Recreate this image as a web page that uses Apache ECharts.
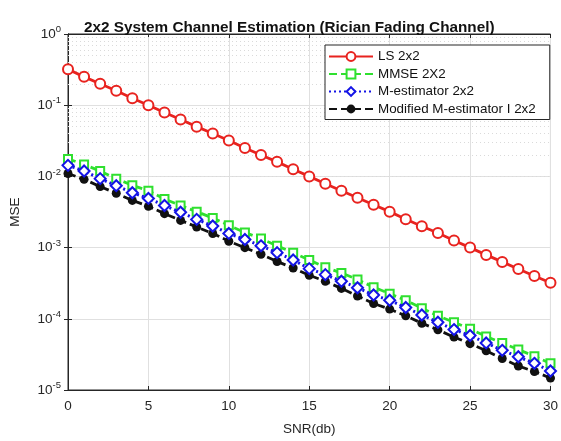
<!DOCTYPE html>
<html>
<head>
<meta charset="utf-8">
<script src="https://cdn.jsdelivr.net/npm/echarts@6/dist/echarts.min.js"></script>
<style>
  html, body { margin: 0; padding: 0; background: #fff; }
  #chart { width: 561px; height: 441px; }
</style>
</head>
<body>
<div id="chart"></div>
<script>
// SNR in dB
const snr = [0, 1, 2, 3, 4, 5, 6, 7, 8, 9, 10, 11, 12, 13, 14, 15, 16, 17, 18, 19, 20,
  21, 22, 23, 24, 25, 26, 27, 28, 29, 30];

const lsMse = [0.32, 0.25, 0.20, 0.16, 0.125, 0.10, 0.079, 0.063, 0.050, 0.040, 0.032,
  0.025, 0.020, 0.016, 0.0126, 0.010, 0.0079, 0.0063, 0.0050, 0.0040, 0.0032,
  0.0025, 0.0020, 0.0016, 0.00126, 0.0010, 0.00079, 0.00063, 0.00050, 0.00040, 0.00032];

const mmseMse = [0.0176, 0.0147, 0.0119, 0.0093, 0.0075, 0.0063, 0.0048, 0.0039, 0.0032,
  0.0026, 0.00206, 0.00163, 0.00134, 0.00106, 0.00085, 0.00067, 0.00053, 0.00044,
  0.000356, 0.000278, 0.000225, 0.000182, 0.000141, 0.000110, 0.0000895, 0.0000722,
  0.0000565, 0.0000458, 0.0000370, 0.0000298, 0.0000237];

const mestMse = [0.0143, 0.0119, 0.0093, 0.0074, 0.0059, 0.0049, 0.0039, 0.00314, 0.00249,
  0.00201, 0.00158, 0.00130, 0.00106, 0.00085, 0.00067, 0.000506, 0.000417, 0.000337,
  0.000273, 0.000216, 0.000182, 0.000144, 0.000113, 0.0000895, 0.0000706, 0.0000583,
  0.0000458, 0.0000361, 0.0000293, 0.0000237, 0.0000185];

const modMse = [0.0110, 0.0091, 0.0072, 0.0058, 0.0046, 0.0038, 0.0030, 0.00241, 0.00195,
  0.00158, 0.00123, 0.000997, 0.000807, 0.000638, 0.000517, 0.000408, 0.000337,
  0.000267, 0.000209, 0.000164, 0.000137, 0.000110, 0.0000867, 0.0000700, 0.0000554,
  0.0000448, 0.0000355, 0.0000277, 0.0000217, 0.0000182, 0.0000147];

const legendNames = ["LS 2x2", "MMSE 2X2", "M-estimator 2x2", "Modified M-estimator I 2x2"];

// dotted minor grid at 2..9 x 10^k
let minorLines = [];
for (let k = -5; k < 0; k++) {
  for (let m = 2; m <= 9; m++) {
    minorLines.push({ yAxis: m * Math.pow(10, k) });
  }
}

function pairs(ys) {
  return snr.map((x, i) => [x, ys[i]]);
}

const font = "'Liberation Sans', Arial, sans-serif";
const axisColor = "#262626";

let myChart = echarts.init(document.getElementById("chart"));
let option = {
  animation: false,
  textStyle: { fontFamily: font },
  title: {
    text: "2x2 System Channel Estimation (Rician Fading Channel)",
    left: 79,
    top: 15,
    textStyle: { fontSize: 15.3, fontWeight: "bold", color: "#111", fontFamily: font }
  },
  grid: {
    left: 65, right: 6, top: 34, bottom: 44,
    show: true, borderColor: axisColor, borderWidth: 1, backgroundColor: "#fff"
  },
  legend: {
    data: legendNames,
    orient: "vertical",
    left: 325,
    top: 45,
    z: 10,
    itemWidth: 44,
    itemHeight: 11,
    itemGap: 4.5,
    padding: [5, 14, 4, 3],
    backgroundColor: "#fff",
    borderColor: axisColor,
    borderWidth: 1,
    textStyle: { fontSize: 13.4, color: "#111", fontFamily: font }
  },
  xAxis: [
    {
      type: "value",
      min: 0, max: 30, interval: 5,
      name: "SNR(db)",
      nameLocation: "middle",
      nameGap: 32,
      nameTextStyle: { fontSize: 13.5, color: axisColor },
      axisLine: { lineStyle: { color: axisColor } },
      axisTick: { inside: true, length: 4, lineStyle: { color: axisColor } },
      axisLabel: { fontSize: 13.5, color: axisColor, margin: 9 },
      splitLine: { show: true, lineStyle: { color: "#e0e0e0", width: 1 } }
    },
    {
      type: "value", position: "top",
      min: 0, max: 30, interval: 5,
      axisLine: { lineStyle: { color: axisColor } },
      axisTick: { inside: true, length: 4, lineStyle: { color: axisColor } },
      axisLabel: { show: false },
      splitLine: { show: false }
    }
  ],
  yAxis: [
    {
      type: "log",
      logBase: 10,
      min: 1e-5, max: 1,
      name: "MSE",
      nameLocation: "middle",
      nameGap: 46,
      nameTextStyle: { fontSize: 13.5, color: axisColor },
      axisLine: { lineStyle: { color: axisColor } },
      axisTick: { inside: true, length: 4, lineStyle: { color: axisColor } },
      axisLabel: {
        color: axisColor,
        margin: 7,
        formatter: function (v) {
          let e = Math.round(Math.log10(v));
          return "{b|10}{s|" + e + "}";
        },
        rich: {
          b: { fontSize: 13.5, color: axisColor, fontFamily: font },
          s: { fontSize: 9.5, color: axisColor, fontFamily: font, verticalAlign: "bottom", padding: [0, 0, 9, 0] }
        }
      },
      splitLine: { show: true, lineStyle: { color: "#e0e0e0", width: 1 } }
    },
    {
      type: "log", logBase: 10, position: "right",
      min: 1e-5, max: 1,
      axisLine: { lineStyle: { color: axisColor } },
      axisTick: { inside: true, length: 4, lineStyle: { color: axisColor } },
      axisLabel: { show: false },
      splitLine: { show: false }
    }
  ],
  series: [
    {
      name: "minor",
      type: "line",
      data: [],
      silent: true,
      z: 1,
      markLine: {
        silent: true,
        z: 1,
        symbol: "none",
        label: { show: false },
        lineStyle: { color: "#dadada", type: [1, 3], width: 1 },
        data: minorLines
      }
    },
    {
      name: legendNames[0],
      type: "line",
      data: pairs(lsMse),
      symbol: "emptyCircle",
      symbolSize: 10,
      color: "#e8231f",
      lineStyle: { width: 2.8, color: "#e8231f" },
      itemStyle: { borderWidth: 2.2, color: "#e8231f", borderColor: "#e8231f" },
      z: 3
    },
    {
      name: legendNames[1],
      type: "line",
      data: pairs(mmseMse),
      symbol: "emptyRect",
      symbolSize: 8,
      color: "#2fe02f",
      lineStyle: { width: 2.8, type: [8, 4], color: "#2fe02f" },
      itemStyle: { borderWidth: 2.8, color: "#2fe02f", borderColor: "#2fe02f" },
      z: 3
    },
    {
      name: legendNames[3],
      type: "line",
      data: pairs(modMse),
      symbol: "circle",
      symbolSize: 9,
      color: "#111111",
      lineStyle: { width: 2.8, type: [8, 4], color: "#111111" },
      itemStyle: { color: "#111111" },
      z: 4
    },
    {
      name: legendNames[2],
      type: "line",
      data: pairs(mestMse),
      symbol: "emptyDiamond",
      symbolSize: 11,
      color: "#1414e6",
      lineStyle: { width: 3, type: [2, 3], color: "#1414e6" },
      itemStyle: { borderWidth: 2.5, color: "#1414e6", borderColor: "#1414e6" },
      z: 5
    }
  ]
};
myChart.setOption(option);
</script>
</body>
</html>
